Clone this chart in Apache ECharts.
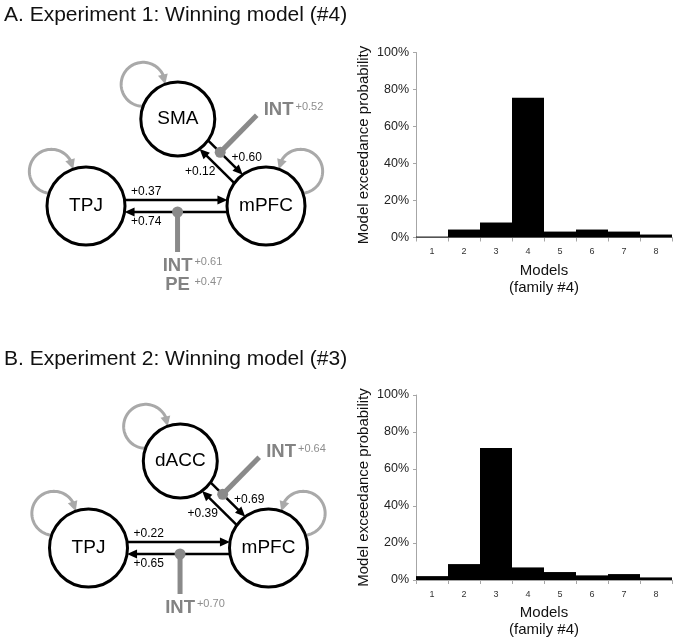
<!DOCTYPE html>
<html><head><meta charset="utf-8">
<script src="https://cdn.jsdelivr.net/npm/echarts/dist/echarts.min.js"></script>
<style>html,body{margin:0;padding:0;background:#fff}#c{width:675px;height:644px}</style>
</head><body><div id="c"></div>
<script>
// ---------------- data ----------------
const panelTitles = ['A. Experiment 1: Winning model (#4)', 'B. Experiment 2: Winning model (#3)'];
const modelLabels = ['1', '2', '3', '4', '5', '6', '7', '8'];
const exceedanceA = [0.5, 4.3, 8.1, 75.5, 3.2, 4.3, 3.2, 1.6];
const exceedanceB = [2.1, 8.6, 71.3, 6.8, 4.3, 2.5, 3.2, 1.4];
const yAxisName = 'Model exceedance probability';
const xAxisName = 'Models\n(family #4)';
const nodesA = ['TPJ', 'mPFC', 'SMA'];
const nodesB = ['TPJ', 'mPFC', 'dACC'];
const edgesA = [['TPJ', 'mPFC', 0.37], ['mPFC', 'TPJ', 0.74], ['SMA', 'mPFC', 0.60], ['mPFC', 'SMA', 0.12]];
const edgesB = [['TPJ', 'mPFC', 0.22], ['mPFC', 'TPJ', 0.65], ['dACC', 'mPFC', 0.69], ['mPFC', 'dACC', 0.39]];
const modulatorsA = [['mPFC', 'TPJ', [['INT', 0.61], ['PE', 0.47]]], ['SMA', 'mPFC', [['INT', 0.52]]]];
const modulatorsB = [['mPFC', 'TPJ', [['INT', 0.70]]], ['dACC', 'mPFC', [['INT', 0.64]]]];

// ---------------- layout / style ----------------
const FONT = "'Liberation Sans', Arial, Helvetica, sans-serif";
const slotPos = [[0, 0], [2, 0], [1.02, 1]];     // diagram units
const slotRadius = [39, 39, 37];
const slotLoop = [-1, 1, -1];                    // -1 upper-left, 1 upper-right
const edgeLabelPlace = [{t: 0.21, off: 8.5}, {t: 0.79, off: 10}, {t: 0.81, off: 15}, {t: 0.66, off: 16}];
const modPlace = [{t: 0.485, len: 40, align: 'center', dx: 0, dy: 13.5}, {t: 0.35, len: 52, align: 'left', dx: 7, dy: -5}];
const GRAY = '#8a8a8a', LOOP_GRAY = '#a9a9a9';
const MOD_FONT = 'bold 18.5px ' + FONT, SUP_FONT = '11px ' + FONT;
const fmt = v => '+' + v.toFixed(2);
const mctx = document.createElement('canvas').getContext('2d');
function textW(font, s) { mctx.font = font; return mctx.measureText(s).width; }

function edgeGeom(api, nodes, from, to) {
  const i = nodes.indexOf(from), j = nodes.indexOf(to);
  const P = api.coord(slotPos[i]), Q = api.coord(slotPos[j]);
  const vx = Q[0] - P[0], vy = Q[1] - P[1], L = Math.hypot(vx, vy);
  const d = [vx / L, vy / L], n = [d[1], -d[0]];
  const h = 6;
  const a = Math.sqrt(slotRadius[i] ** 2 - h * h), b = Math.sqrt(slotRadius[j] ** 2 - h * h);
  const S = [P[0] + n[0] * h + d[0] * a, P[1] + n[1] * h + d[1] * a];
  const E = [Q[0] + n[0] * h - d[0] * b, Q[1] + n[1] * h - d[1] * b];
  return {S, E, d, n};
}

function loopRender(nodes) {
  return function (params, api) {
    const i = params.dataIndex;
    const c = api.coord(slotPos[i]);
    const R = slotRadius[i], D = 49, r = 22;
    const side = slotLoop[i];
    const phi = (side < 0 ? -135 : -45) * Math.PI / 180;
    const C = [c[0] + D * Math.cos(phi), c[1] + D * Math.sin(phi)];
    const base = phi + Math.PI;
    const alpha = Math.acos((D * D + r * r - R * R) / (2 * D * r));
    const s = side < 0 ? 1 : -1;
    const a0 = base + s * alpha, a1 = base - s * alpha + s * 2 * Math.PI;
    const AL = 10, AW = 5;
    const aEnd = a1 - s * (AL / r) * 0.8;
    const pts = [];
    const N = 60;
    for (let k = 0; k <= N; k++) {
      const a = a0 + (aEnd - a0) * k / N;
      pts.push([C[0] + r * Math.cos(a), C[1] + r * Math.sin(a)]);
    }
    const tip = [C[0] + r * Math.cos(a1), C[1] + r * Math.sin(a1)];
    const ab = a1 - s * (AL / r);
    const bp = [C[0] + r * Math.cos(ab), C[1] + r * Math.sin(ab)];
    const dx = tip[0] - bp[0], dy = tip[1] - bp[1], l = Math.hypot(dx, dy);
    const nx = -dy / l, ny = dx / l;
    return {type: 'group', children: [
      {type: 'polyline', shape: {points: pts}, style: {stroke: LOOP_GRAY, lineWidth: 3, fill: null}},
      {type: 'polygon', shape: {points: [tip, [bp[0] + nx * AW, bp[1] + ny * AW], [bp[0] - nx * AW, bp[1] - ny * AW]]}, style: {fill: LOOP_GRAY}}
    ]};
  };
}

function edgeRender(nodes, edges) {
  return function (params, api) {
    const e = edges[params.dataIndex];
    const g = edgeGeom(api, nodes, e[0], e[1]);
    const AL = 10, AW = 4.5;
    const b = [g.E[0] - g.d[0] * AL, g.E[1] - g.d[1] * AL];
    const pl = edgeLabelPlace[params.dataIndex];
    const lx = g.S[0] + (g.E[0] - g.S[0]) * pl.t + g.n[0] * pl.off;
    const ly = g.S[1] + (g.E[1] - g.S[1]) * pl.t + g.n[1] * pl.off;
    return {type: 'group', children: [
      {type: 'line', shape: {x1: g.S[0], y1: g.S[1], x2: b[0] + g.d[0], y2: b[1] + g.d[1]}, style: {stroke: '#000', lineWidth: 2.5}},
      {type: 'polygon', shape: {points: [g.E, [b[0] + g.n[0] * AW, b[1] + g.n[1] * AW], [b[0] - g.n[0] * AW, b[1] - g.n[1] * AW]]}, style: {fill: '#000'}},
      {type: 'text', x: lx, y: ly, style: {text: fmt(e[2]), font: '12px ' + FONT, fill: '#000', align: 'center', verticalAlign: 'middle'}}
    ]};
  };
}

function nodeRender(nodes) {
  return function (params, api) {
    const i = params.dataIndex;
    const c = api.coord(slotPos[i]);
    return {type: 'group', children: [
      {type: 'circle', shape: {cx: c[0], cy: c[1], r: slotRadius[i]}, style: {fill: '#fff', stroke: '#000', lineWidth: 3}},
      {type: 'text', x: c[0], y: c[1], style: {text: nodes[i], font: '19px ' + FONT, fill: '#000', align: 'center', verticalAlign: 'middle'}}
    ]};
  };
}

function modRender(nodes, mods) {
  return function (params, api) {
    const idx = params.dataIndex, m = mods[idx], pl = modPlace[idx];
    const g = edgeGeom(api, nodes, m[0], m[1]);
    const A = [g.S[0] + (g.E[0] - g.S[0]) * pl.t, g.S[1] + (g.E[1] - g.S[1]) * pl.t];
    const B = [A[0] + g.n[0] * pl.len, A[1] + g.n[1] * pl.len];
    const children = [
      {type: 'line', shape: {x1: A[0], y1: A[1], x2: B[0], y2: B[1]}, style: {stroke: GRAY, lineWidth: 5}},
      {type: 'circle', shape: {cx: A[0], cy: A[1], r: 5.5}, style: {fill: GRAY}}
    ];
    const maxW = Math.max(...m[2].map(x => textW(MOD_FONT, x[0])));
    const x0 = B[0] + pl.dx;
    const supX = (pl.align === 'center' ? x0 + maxW / 2 : x0 + maxW) + 2;
    m[2].forEach((inp, k) => {
      const y = B[1] + pl.dy + k * 19.5;
      children.push({type: 'text', x: x0, y: y, style: {text: inp[0], font: MOD_FONT, fill: '#838383', align: pl.align, verticalAlign: 'middle'}});
      children.push({type: 'text', x: supX, y: y - 3.5, style: {text: fmt(inp[1]), font: SUP_FONT, fill: '#8e8e8e', align: 'left', verticalAlign: 'middle'}});
    });
    return {type: 'group', children};
  };
}

function diagramSeries(gi, nodes, edges, mods) {
  const common = {type: 'custom', xAxisIndex: gi, yAxisIndex: gi, coordinateSystem: 'cartesian2d', silent: true, clip: false, animation: false};
  return [
    Object.assign({}, common, {renderItem: loopRender(nodes), data: nodes.map((n, i) => slotPos[i])}),
    Object.assign({}, common, {renderItem: edgeRender(nodes, edges), data: edges.map((e, i) => [i, 0])}),
    Object.assign({}, common, {renderItem: nodeRender(nodes), data: nodes.map((n, i) => slotPos[i])}),
    Object.assign({}, common, {renderItem: modRender(nodes, mods), data: mods.map((m, i) => [i, 0])})
  ];
}

function hiddenX(gi) { return {gridIndex: gi, type: 'value', min: -0.9, max: 2.9, show: false}; }
function hiddenY(gi) { return {gridIndex: gi, type: 'value', min: -1, max: 1.6, show: false}; }
const axisGray = '#a6a6a6';
function barX(gi) {
  return {gridIndex: gi, type: 'category', data: modelLabels, boundaryGap: true,
    axisLine: {show: true, lineStyle: {color: axisGray, width: 1}},
    axisTick: {show: true, length: 4, alignWithLabel: false, lineStyle: {color: axisGray}},
    axisLabel: {fontSize: 9, color: '#333', margin: 10, fontFamily: FONT},
    name: xAxisName, nameLocation: 'middle', nameGap: 24.5,
    nameTextStyle: {fontSize: 15, color: '#111', fontFamily: FONT, lineHeight: 17}};
}
function barY(gi) {
  return {gridIndex: gi, type: 'value', min: 0, max: 100, interval: 20,
    axisLine: {show: true, lineStyle: {color: axisGray, width: 1}},
    axisTick: {show: true, length: 3, lineStyle: {color: axisGray}},
    splitLine: {show: false},
    axisLabel: {formatter: '{value}%', fontSize: 12.5, color: '#222', margin: 7, fontFamily: FONT},
    name: yAxisName, nameLocation: 'middle', nameRotate: 90, nameGap: 45,
    nameTextStyle: {fontSize: 15, color: '#111', fontFamily: FONT}};
}

const option = {
  animation: false,
  backgroundColor: '#fff',
  title: [
    {text: panelTitles[0], left: 4, top: 5, padding: 0, textStyle: {fontSize: 21, fontWeight: 'normal', color: '#111', fontFamily: FONT}},
    {text: panelTitles[1], left: 4, top: 349, padding: 0, textStyle: {fontSize: 21, fontWeight: 'normal', color: '#111', fontFamily: FONT}}
  ],
  grid: [
    {left: 5, top: 66.8, width: 342, height: 226.2, outerBoundsMode: 'none', containLabel: false},
    {left: 416, top: 52.5, width: 256, height: 185, outerBoundsMode: 'none', containLabel: false},
    {left: 7.5, top: 408.8, width: 342, height: 226.2, outerBoundsMode: 'none', containLabel: false},
    {left: 416, top: 395, width: 256, height: 185, outerBoundsMode: 'none', containLabel: false}
  ],
  xAxis: [hiddenX(0), barX(1), hiddenX(2), barX(3)],
  yAxis: [hiddenY(0), barY(1), hiddenY(2), barY(3)],
  series: [
    ...diagramSeries(0, nodesA, edgesA, modulatorsA),
    {type: 'bar', xAxisIndex: 1, yAxisIndex: 1, data: exceedanceA, barCategoryGap: '0%', itemStyle: {color: '#000'}, silent: true},
    ...diagramSeries(2, nodesB, edgesB, modulatorsB),
    {type: 'bar', xAxisIndex: 3, yAxisIndex: 3, data: exceedanceB, barCategoryGap: '0%', itemStyle: {color: '#000'}, silent: true}
  ]
};
const chart = echarts.init(document.getElementById('c'));
chart.setOption(option);
</script>
</body></html>
